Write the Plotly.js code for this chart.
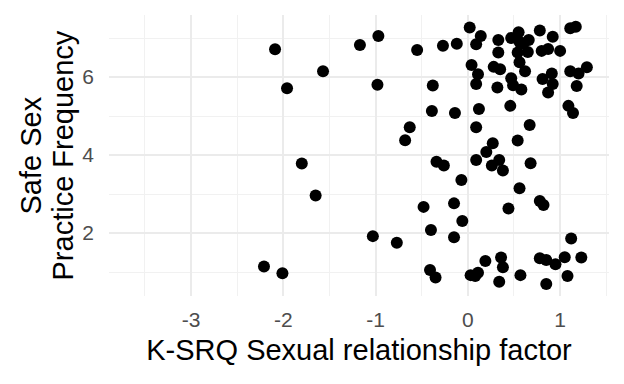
<!DOCTYPE html>
<html>
<head>
<meta charset="utf-8">
<script src="https://cdn.plot.ly/plotly-3.0.1.min.js"></script>
<style>html,body{margin:0;padding:0;background:#fff;}#chart{width:624px;height:384px;}</style>
</head>
<body>
<div id="chart"></div>
<script>
const ksrq = [
  -2.09, -1.57, -1.96, -1.80, -1.65, -2.21, -2.01,
  -1.17, -0.97, -0.98, -0.55, -0.27, -0.12, -0.38,
  -0.63, -0.68, -0.39, -0.14,
  -0.34, -0.26, -0.07,
  -0.48, -0.15, -0.06, -0.40, -0.15, -1.03, -0.77,
  -0.41, -0.35,
  0.02, 0.14, 0.09, 0.33, 0.33,
  0.47, 0.55, 0.56, 0.60, 0.66, 0.54, 0.65,
  0.78, 0.92, 1.11, 1.17, 1.00, 0.80, 0.87,
  0.04, 0.11, 0.09, 0.28, 0.35, 0.32,
  0.56, 0.62, 0.47, 0.49, 0.58,
  0.81, 0.91, 0.92, 0.87, 1.11, 1.20, 1.29, 1.18,
  0.46, 0.12, 1.09, 1.14,
  0.67, 0.09, 0.27, 0.20, 0.54,
  0.09, 0.34, 0.26, 0.38, 0.68, 0.56,
  0.78, 0.82, 0.44,
  0.19, 0.36, 0.38, 0.03, 0.11, 0.08, 0.34,
  0.57, 0.78, 0.85, 0.95, 1.05, 1.12, 1.23, 1.08, 0.85
];
const safeSex = [
  6.71, 6.15, 5.71, 3.78, 2.96, 1.14, 0.97,
  6.82, 7.05, 5.80, 6.69, 6.80, 6.85, 5.78,
  4.71, 4.38, 5.13, 5.08,
  3.83, 3.73, 3.36,
  2.67, 2.76, 2.31, 2.08, 1.89, 1.92, 1.75,
  1.05, 0.86,
  7.27, 7.05, 6.84, 6.95, 6.63,
  7.00, 7.15, 6.90, 6.86, 6.95, 6.63, 6.64,
  7.19, 7.03, 7.25, 7.29, 6.67, 6.67, 6.72,
  6.31, 6.07, 5.82, 6.26, 6.20, 5.73,
  6.38, 6.15, 5.97, 5.79, 5.68,
  5.95, 6.09, 5.82, 5.60, 6.15, 6.09, 6.25, 5.77,
  5.26, 5.18, 5.26, 5.08,
  4.77, 4.71, 4.30, 4.08, 4.37,
  3.87, 3.87, 3.73, 3.60, 3.79, 3.15,
  2.82, 2.72, 2.63,
  1.28, 1.37, 1.12, 0.92, 0.98, 0.90, 0.75,
  0.92, 1.35, 1.31, 1.20, 1.38, 1.86, 1.37, 0.90, 0.69
];
const xTickVals = [-3, -2, -1, 0, 1];
const yTickVals = [2, 4, 6];
const xTitle = 'K-SRQ Sexual relationship factor';
const yTitleLines = ['Safe Sex', 'Practice Frequency'];

const trace = {
  x: ksrq, y: safeSex, type: 'scatter', mode: 'markers',
  marker: {color: '#000000', size: 12, line: {width: 0}},
  hoverinfo: 'skip'
};
const fontFam = '"Liberation Sans", Arial, sans-serif';
const titleFont = {family: fontFam, size: 29, color: '#000000'};
const layout = {
  width: 624, height: 384,
  margin: {l: 109, r: 15, t: 15, b: 88, pad: 0},
  paper_bgcolor: '#ffffff', plot_bgcolor: '#ffffff',
  showlegend: false,
  font: {family: fontFam, color: '#000000'},
  xaxis: {
    range: [-3.89, 1.53], tickvals: xTickVals, ticktext: xTickVals.map(String),
    showgrid: true, gridcolor: '#EBEBEB', gridwidth: 2,
    minor: {dtick: 0.5, tick0: 0, showgrid: true, gridcolor: '#F1F1F1', gridwidth: 1},
    zeroline: false, showline: false, ticks: '',
    ticklabelstandoff: 9,
    tickfont: {family: fontFam, size: 21, color: '#4D4D4D'},
    title: {text: xTitle, font: titleFont, standoff: 9},
    automargin: false
  },
  yaxis: {
    range: [0.385, 7.59], tickvals: yTickVals, ticktext: yTickVals.map(String),
    showgrid: true, gridcolor: '#EBEBEB', gridwidth: 2,
    minor: {dtick: 1, tick0: 1, showgrid: true, gridcolor: '#F1F1F1', gridwidth: 1},
    zeroline: false, showline: false, ticks: '',
    ticklabelstandoff: 14,
    tickfont: {family: fontFam, size: 21, color: '#4D4D4D'},
    automargin: false
  },
  annotations: [
    {text: yTitleLines[0], xref: 'paper', yref: 'paper', x: -0.158, y: 0.5, xanchor: 'center', yanchor: 'middle',
     textangle: -90, showarrow: false, font: titleFont},
    {text: yTitleLines[1], xref: 'paper', yref: 'paper', x: -0.094, y: 0.5, xanchor: 'center', yanchor: 'middle',
     textangle: -90, showarrow: false, font: titleFont}
  ]
};
Plotly.newPlot('chart', [trace], layout, {displayModeBar: false, staticPlot: true});
</script>
</body>
</html>
